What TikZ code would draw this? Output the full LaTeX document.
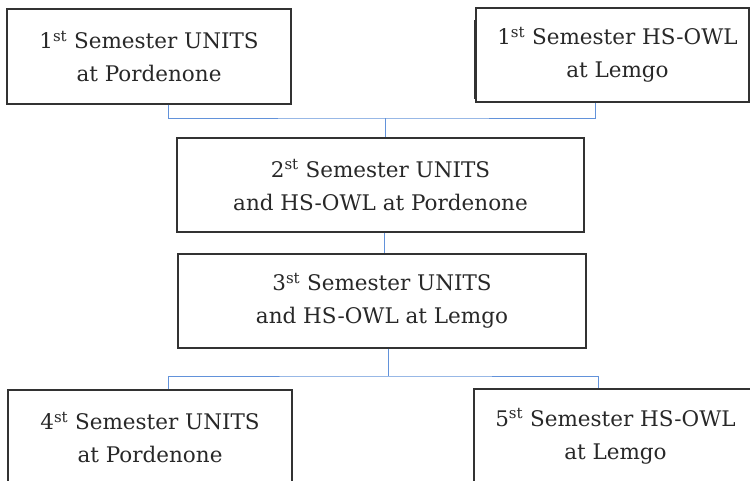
\documentclass[tikz,border=0pt]{standalone}
\usepackage{fontspec}
\setmainfont{DejaVu Serif}
\definecolor{linkblue}{RGB}{98,146,218}
\definecolor{boxgray}{RGB}{50,50,50}
\definecolor{textgray}{RGB}{40,40,40}
\tikzset{
  x=1pt, y=-1pt,
  semnode/.style={draw=boxgray, line width=1.2pt, rectangle, align=center,
    text=textgray, inner sep=0pt,
    font=\fontsize{21.5}{33}\selectfont},
  conn/.style={draw=linkblue, line width=1pt},
}
\begin{document}
\begin{tikzpicture}
\useasboundingbox (0,0) rectangle (750,480);
\clip (0,0) rectangle (750,480);
\fill[white] (0,0) rectangle (750,480);
\node[semnode, minimum width=284pt, minimum height=95pt] (b1) at (149,56.5)
  {1\textsuperscript{st} Semester UNITS\\at Pordenone};
\node[semnode, minimum width=273pt, minimum height=94pt] (b2) at (612.5,55)
  {\hspace*{10pt}1\textsuperscript{st} Semester HS-OWL\\\hspace*{10pt}at Lemgo};
\draw[draw=boxgray, line width=1pt] (474.5,20) -- (474.5,99);
\node[semnode, minimum width=407pt, minimum height=94pt] (b3) at (380.5,185)
  {2\textsuperscript{st} Semester UNITS\\and HS-OWL at Pordenone};
\node[semnode, minimum width=408pt, minimum height=94pt] (b4) at (382,301)
  {3\textsuperscript{st} Semester UNITS\\and HS-OWL at Lemgo};
\node[semnode, minimum width=284pt, minimum height=95pt] (b5) at (150,437.5)
  {4\textsuperscript{st} Semester UNITS\\at Pordenone};
\node[semnode, minimum width=283pt, minimum height=95pt] (b6) at (615.5,436.5)
  {5\textsuperscript{st} Semester HS-OWL\\at Lemgo};
\coordinate (bus1) at (385,118);
\coordinate (lnk) at (384,243);
\coordinate (bus2) at (388,376);
\draw[conn] ([xshift=19pt]b1.south) |- (bus1) -| ([xshift=-17.5pt]b2.south);
\draw[conn] (bus1) -- (bus1 |- b3.north);
\draw[conn] (b3.south -| lnk) -- (b4.north -| lnk);
\draw[conn] (b4.south -| bus2) -- (bus2);
\draw[conn] ([xshift=18pt]b5.north) |- (bus2) -| ([xshift=-17.5pt]b6.north);
\end{tikzpicture}
\end{document}
